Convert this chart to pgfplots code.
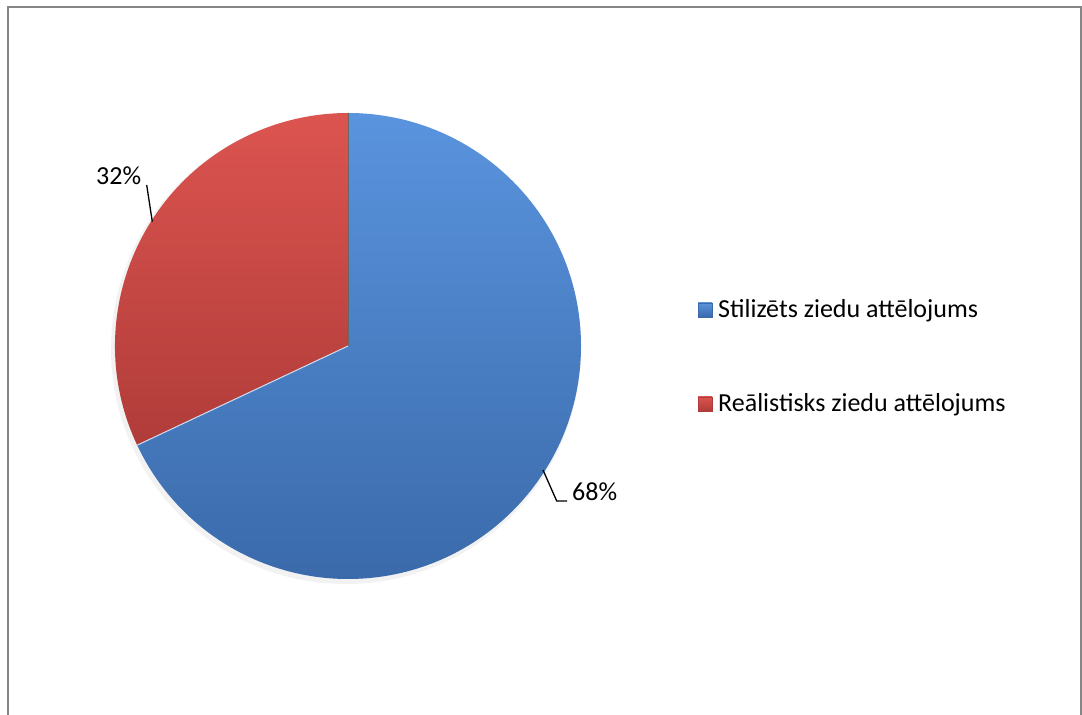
\documentclass[border=0pt]{standalone}
\usepackage{pgfplots}
\pgfplotsset{compat=1.18}
\usepackage{pgfplotstable}
\usepackage{fontspec}
\setmainfont{Carlito}

\definecolor{blueTop}{RGB}{90,148,222}
\definecolor{blueBot}{RGB}{58,106,170}
\definecolor{redTop}{RGB}{220,84,80}
\definecolor{redBot}{RGB}{176,60,57}
\definecolor{frame}{RGB}{134,134,134}

% share of each slice (%)
\pgfplotstableread{
share
68
32
}\piedata

\newcommand\lbl{\fontsize{26bp}{31bp}\selectfont}

\begin{document}
\begin{tikzpicture}
\pgfplotstablegetelem{0}{share}\of\piedata \let\sA\pgfplotsretval
\pgfplotstablegetelem{1}{share}\of\piedata \let\sB\pgfplotsretval
\pgfmathsetmacro\aMid{90-\sA*3.6}
\pgfmathsetmacro\aEnd{\aMid-\sB*3.6}
\begin{axis}[
    hide axis,
    scale only axis,
    width=1082bp, height=715bp,
    xmin=0, xmax=1082, ymin=0, ymax=715,
    clip=false,
]
  \coordinate (bl) at (axis cs:0,0);
  \coordinate (tr) at (axis cs:1082,715);
  % outer frame
  \draw[frame, line width=2bp] (axis cs:7.5,-20) -- (axis cs:7.5,707.5)
       -- (axis cs:1080.5,707.5) -- (axis cs:1080.5,-20);

  % soft shadow
  \fill[black, opacity=0.05] (axis cs:346,366) circle[radius=235bp];

  % Stilizēts (blue)
  \shade[top color=blueTop, bottom color=blueBot]
    (axis cs:348,369) -- ++(90:233bp)
    arc[start angle=90, end angle=\aMid, radius=233bp] -- cycle;
  % Reālistisks (red)
  \shade[top color=redTop, bottom color=redBot]
    (axis cs:348,369) -- ++(\aMid:233bp)
    arc[start angle=\aMid, end angle=\aEnd, radius=233bp] -- cycle;
  \draw[black!60, line width=0.8bp] (axis cs:348,369) -- ++(90:233bp);
  \draw[white!70!blueTop, line width=1bp] (axis cs:348,369) -- ++(\aMid:233bp);

  % data labels with leader lines
  \draw[black, line width=1.3bp] (axis cs:146.7,530) -- (axis cs:152.3,493.3);
  \node[anchor=base west, inner sep=0pt, font=\lbl] at (axis cs:96,530) {32\%};
  \draw[black, line width=1.3bp] (axis cs:543,245) -- (axis cs:556.7,214)
       -- (axis cs:567,214);
  \node[anchor=base west, inner sep=0pt, font=\lbl] at (axis cs:572,214) {68\%};

  % legend
  \shade[top color=blueTop, bottom color=blueBot, draw=blueBot]
    (axis cs:698,398) rectangle (axis cs:712,412);
  \node[anchor=base west, inner sep=0pt, font=\lbl] at (axis cs:718,397) {Stilizēts ziedu attēlojums};
  \shade[top color=redTop, bottom color=redBot, draw=redBot]
    (axis cs:698,304) rectangle (axis cs:712,318);
  \node[anchor=base west, inner sep=0pt, font=\lbl] at (axis cs:718,303) {Reālistisks ziedu attēlojums};
\end{axis}
\pgfresetboundingbox
\path[use as bounding box] (bl) rectangle (tr);
\end{tikzpicture}
\end{document}
